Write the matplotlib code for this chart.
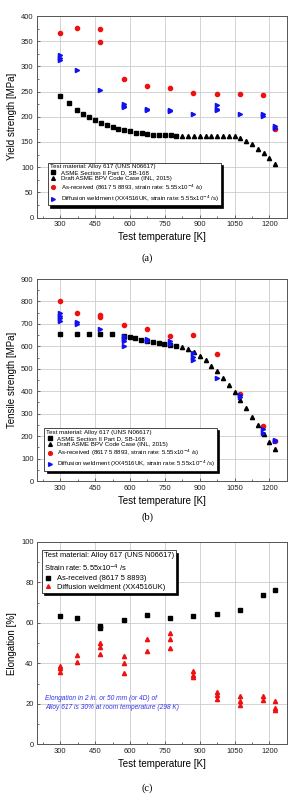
import matplotlib
matplotlib.use("Agg")
import matplotlib.pyplot as plt
import numpy as np

plt.rcParams['font.family'] = ['Liberation Sans', 'DejaVu Sans']

# ---------------- (a) yield strength ----------------
ya_asme_T = [300, 338, 373, 400, 425, 450, 475, 500, 525, 550, 575, 600,
             625, 650, 675, 700, 725, 750, 775, 800]
ya_asme_v = [241, 227, 213, 205, 199, 193, 188, 183, 179, 176, 173, 171,
             168, 167, 166, 164, 164, 163, 163, 162]
ya_inl_T = [825, 850, 875, 900, 925, 950, 975, 1000, 1025, 1050,
            1075, 1100, 1125, 1150, 1175, 1200, 1225]
ya_inl_v = [161, 161, 161, 161, 161, 161, 161, 161, 161, 161,
            157, 151, 145, 137, 128, 118, 107]
ya_ar_T = [300, 373, 473, 473, 573, 673, 773, 873, 973, 1073, 1173, 1223]
ya_ar_v = [367, 377, 374, 348, 275, 261, 257, 248, 246, 246, 244, 175]
ya_dw_T = [300, 300, 300, 373, 473, 573, 573, 573, 673, 673, 773, 773,
           873, 973, 973, 973, 1073, 1173, 1173, 1223, 1223]
ya_dw_v = [322, 317, 313, 292, 254, 225, 222, 219, 216, 214, 214, 211,
           205, 223, 216, 213, 205, 205, 201, 182, 178]

# ---------------- (b) tensile strength ----------------
ts_asme_T = [300, 373, 423, 473, 523, 573, 598, 623, 648, 673, 698, 723,
             748, 773, 798]
ts_asme_v = [657, 657, 657, 657, 657, 648, 642, 636, 630, 626, 620, 617,
             612, 607, 603]
ts_inl_T = [825, 850, 875, 900, 925, 950, 975, 1000, 1025, 1050,
            1075, 1100, 1125, 1150, 1175, 1200, 1225]
ts_inl_v = [598, 589, 573, 557, 537, 513, 490, 460, 429, 396,
            362, 325, 287, 248, 210, 173, 142]
ts_ar_T = [300, 373, 473, 473, 573, 673, 773, 873, 973, 1073, 1173, 1223]
ts_ar_v = [800, 747, 738, 729, 695, 679, 646, 650, 564, 388, 247, 180]
ts_dw_T = [300, 300, 300, 300, 373, 373, 473, 573, 573, 573, 573, 673, 673,
           773, 773, 873, 873, 873, 973, 1073, 1073, 1173, 1173, 1223, 1223]
ts_dw_v = [748, 737, 726, 714, 708, 701, 677, 645, 635, 625, 603, 633, 622,
           622, 612, 570, 552, 540, 458, 384, 374, 230, 215, 183, 178]

# ---------------- (c) elongation ----------------
el_ar_T = [300, 373, 473, 473, 573, 673, 773, 873, 973, 1073, 1173, 1223]
el_ar_v = [63.6, 62.5, 58.5, 57.5, 61.3, 64.1, 62.6, 63.6, 64.5, 66.2, 73.7, 76.5]
el_dw_T = [300, 300, 300, 373, 373, 473, 473, 473, 573, 573, 573, 673, 673,
           773, 773, 773, 873, 873, 873, 973, 973, 973, 1073, 1073, 1073,
           1173, 1173, 1223, 1223, 1223]
el_dw_v = [38.9, 37.7, 36.0, 44.3, 40.5, 50.1, 48.1, 44.9, 43.5, 40.2, 35.2,
           52.2, 46.4, 55.3, 52.1, 47.6, 36.5, 34.4, 33.1, 26.1, 24.3, 22.4,
           24.0, 21.7, 19.6, 24.0, 22.0, 21.7, 18.2, 17.1]

xticks = [300, 450, 600, 750, 900, 1050, 1200]

fig = plt.figure(figsize=(2.95, 8.02), dpi=100)
ax_a = fig.add_axes([0.1254, 0.7288, 0.847, 0.2512])
ax_b = fig.add_axes([0.1254, 0.4002, 0.847, 0.2519])
ax_c = fig.add_axes([0.1254, 0.0717, 0.847, 0.2525])


def style_axis(ax, ylim, ystep, ylabel):
    ax.set_xlim(200, 1275)
    ax.set_ylim(*ylim)
    ax.set_xticks(xticks)
    ax.set_xticks(np.arange(225, 1275, 75), minor=True)
    ax.set_yticks(np.arange(ylim[0], ylim[1] + 1, ystep))
    ax.set_yticks(np.arange(ylim[0], ylim[1], ystep / 2), minor=True)
    ax.grid(True, which='major', color='#cccccc', lw=0.6)
    ax.set_axisbelow(True)
    ax.tick_params(which='both', direction='in', labelsize=5.5, width=0.5,
                   colors='#333333', labelcolor='#222222', pad=2.5)
    ax.tick_params(which='major', length=2.5)
    ax.tick_params(which='minor', length=1.5)
    for s in ax.spines.values():
        s.set_color('#555555')
        s.set_linewidth(0.7)
    ax.set_xlabel('Test temperature [K]', fontsize=7, labelpad=3)
    ax.set_ylabel(ylabel, fontsize=7, labelpad=3)


ms = 3.0
# (a)
ax_a.plot(ya_asme_T, ya_asme_v, 's', color='black', ms=ms, label='ASME Section II Part D, SB-168')
ax_a.plot(ya_inl_T, ya_inl_v, '^', color='black', ms=ms, label='Draft ASME BPV Code Case (INL, 2015)')
ax_a.plot(ya_ar_T, ya_ar_v, 'o', color='#ee1111', ms=ms,
          label='As-received (8617 5 8893, strain rate: 5.55x10$^{-4}$ /s)')
ax_a.plot(ya_dw_T, ya_dw_v, '>', color='#1111ee', ms=ms,
          label='Diffusion weldment (XX4516UK, strain rate: 5.55x10$^{-4}$ /s)')
style_axis(ax_a, (0, 400), 50, 'Yield strength [MPa]')

# (b)
ax_b.plot(ts_asme_T, ts_asme_v, 's', color='black', ms=ms, label='ASME Section II Part D, SB-168')
ax_b.plot(ts_inl_T, ts_inl_v, '^', color='black', ms=ms, label='Draft ASME BPV Code Case (INL, 2015)')
ax_b.plot(ts_ar_T, ts_ar_v, 'o', color='#ee1111', ms=ms,
          label='As-received (8617 5 8893, strain rate: 5.55x10$^{-4}$ /s)')
ax_b.plot(ts_dw_T, ts_dw_v, '>', color='#1111ee', ms=ms,
          label='Diffusion weldment (XX4516UK, strain rate: 5.55x10$^{-4}$ /s)')
style_axis(ax_b, (0, 900), 100, 'Tensile strength [MPa]')

# (c)
ax_c.plot(el_ar_T, el_ar_v, 's', color='black', ms=ms, label='As-received (8617 5 8893)')
ax_c.plot(el_dw_T, el_dw_v, '^', color='#ee1111', ms=ms, label='Diffusion weldment (XX4516UK)')
style_axis(ax_c, (0, 100), 20, 'Elongation [%]')
ax_c.text(0.032, 0.245, 'Elongation in 2 in. or 50 mm (or 4D) of\n'
          'Alloy 617 is 30% at room temperature (298 K)',
          transform=ax_c.transAxes, fontsize=4.8, style='italic',
          color='#3333ee', va='top', ha='left', linespacing=1.5)

shadow = {'color': 'black', 'alpha': 1.0, 'ox': 1.6, 'oy': -1.6}
for ax, title, fs, anchor in [
        (ax_a, 'Test material: Alloy 617 (UNS N06617)', 4.4, (0.045, 0.06)),
        (ax_b, 'Test material: Alloy 617 (UNS N06617)', 4.4, (0.03, 0.05)),
        (ax_c, 'Test material: Alloy 617 (UNS N06617)\nStrain rate: 5.55x10$^{-4}$ /s', 5.4, (0.02, 0.75))]:
    leg = ax.legend(loc='lower left', bbox_to_anchor=anchor, fontsize=fs,
                    title=title, title_fontsize=fs, alignment='left',
                    frameon=True, fancybox=False, shadow=shadow,
                    handlelength=1.2, handletextpad=0.6, labelspacing=0.15,
                    borderpad=0.25, borderaxespad=0.0, markerscale=0.9)
    leg.get_frame().set_edgecolor('black')
    leg.get_frame().set_linewidth(0.5)
    leg.get_title().set_linespacing(1.4)

for y, lab in [(0.678, '(a)'), (0.355, '(b)'), (0.017, '(c)')]:
    fig.text(0.5, y, lab, ha='center', va='center', fontsize=7.5,
             family='Liberation Serif')

fig.savefig('out.png', dpi=100)
